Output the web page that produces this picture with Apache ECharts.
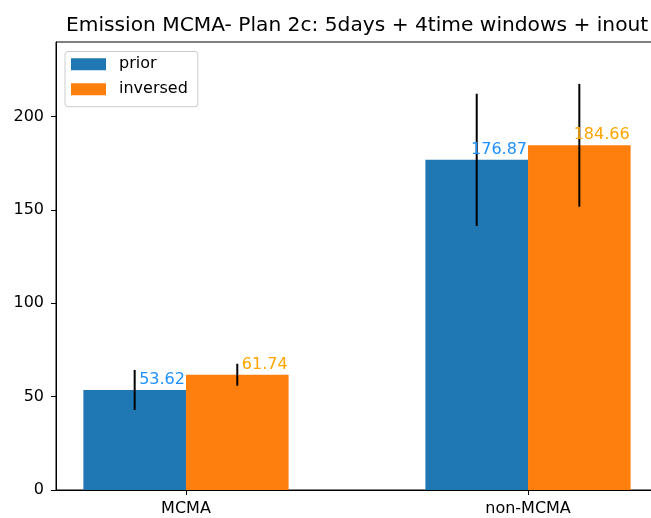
<!DOCTYPE html>
<html><head><meta charset="utf-8">
<script src="https://cdn.jsdelivr.net/npm/echarts@6/dist/echarts.min.js"></script>
<style>html,body{margin:0;padding:0;background:#fff;overflow:hidden}#c{width:680px;height:518px}</style>
</head><body><div id="c"></div>
<script>
const categories = ['MCMA', 'non-MCMA'];
const seriesNames = ['prior', 'inversed'];
const priorValues = [53.62, 176.87];
const inversedValues = [61.74, 184.66];
const priorErrors = [10.7, 35.4];
const inversedErrors = [5.9, 32.9];
const yTicks = [0, 50, 100, 150, 200];
const xTicks = [0, 1];
const titleText = 'Emission MCMA- Plan 2c: 5days + 4time windows + inout';

const barColors = ['#1f77b4', '#ff7f0e'];
const labelColors = ['#1e90ff', '#ffa500'];
const offsets = [-0.15, 0.15];
const barW = 0.3;
const FONT = 'DejaVu Sans';

const groups = [
  { name: seriesNames[0], values: priorValues, errors: priorErrors },
  { name: seriesNames[1], values: inversedValues, errors: inversedErrors }
];

const series = [];
groups.forEach((g, gi) => {
  series.push({
    name: g.name,
    type: 'custom',
    z: 2,
    itemStyle: { color: barColors[gi] },
    data: g.values.map((v, i) => [i + offsets[gi], v]),
    renderItem: (params, api) => {
      const x = api.value(0), v = api.value(1);
      const p0 = api.coord([x - barW / 2, 0]);
      const p1 = api.coord([x + barW / 2, v]);
      return { type: 'rect', shape: { x: p0[0], y: p1[1], width: p1[0] - p0[0], height: p0[1] - p1[1] },
        style: { fill: barColors[gi] } };
    }
  });
});
groups.forEach((g, gi) => {
  series.push({
    name: g.name + '-err',
    type: 'custom',
    z: 3,
    silent: true,
    data: g.values.map((v, i) => [i + offsets[gi], v - g.errors[i], v + g.errors[i]]),
    renderItem: (params, api) => {
      const x = api.value(0);
      const a = api.coord([x, api.value(1)]);
      const b = api.coord([x, api.value(2)]);
      return { type: 'line', shape: { x1: a[0], y1: a[1], x2: b[0], y2: b[1] },
        style: { stroke: '#000', lineWidth: 2 } };
    }
  });
});
groups.forEach((g, gi) => {
  series.push({
    name: g.name + '-lbl',
    type: 'custom',
    z: 5,
    silent: true,
    data: g.values.map((v, i) => [i + offsets[gi], v]),
    renderItem: (params, api) => {
      const x = api.value(0), v = api.value(1);
      const p = api.coord([x + barW / 2, v]);
      return { type: 'text', x: p[0] - 1, y: p[1] - 2,
        style: { text: v.toFixed(2), fill: labelColors[gi], font: '16px "' + FONT + '"',
          align: 'right', verticalAlign: 'bottom' } };
    }
  });
});

const chart = echarts.init(document.getElementById('c'), null, { renderer: 'canvas' });
chart.setOption({
  animation: false,
  backgroundColor: '#fff',
  textStyle: { fontFamily: FONT },
  title: { text: titleText, left: 66, top: 16, padding: 0,
    textStyle: { fontFamily: FONT, fontSize: 20.2, fontWeight: 'normal', color: '#000' } },
  legend: {
    data: seriesNames, orient: 'vertical', left: 65, top: 51.5,
    itemWidth: 35, itemHeight: 12, itemGap: 9, icon: 'rect',
    padding: [4.7, 10, 9.5, 6],
    backgroundColor: 'rgba(255,255,255,0.8)', borderColor: '#cccccc', borderWidth: 1, borderRadius: 3,
    textStyle: { fontFamily: FONT, fontSize: 16, color: '#000', padding: [0, 0, 0, 8] }
  },
  grid: { left: 56, top: 42, width: 602, height: 448, show: true, borderColor: '#000', borderWidth: 1,
    backgroundColor: 'transparent', containLabel: false },
  xAxis: {
    type: 'value', min: -0.38, max: 1.38,
    splitLine: { show: false },
    axisLine: { show: true, onZero: false, lineStyle: { color: '#000', width: 1 } },
    axisTick: { show: true, customValues: xTicks, length: 5, lineStyle: { color: '#000', width: 1 } },
    axisLabel: { customValues: xTicks, formatter: v => categories[Math.round(v)], margin: 11,
      fontFamily: FONT, fontSize: 16, color: '#000' }
  },
  yAxis: {
    type: 'value', min: 0, max: 240,
    splitLine: { show: false },
    axisLine: { show: true, onZero: false, lineStyle: { color: '#000', width: 1 } },
    axisTick: { show: true, customValues: yTicks, length: 5, lineStyle: { color: '#000', width: 1 } },
    axisLabel: { customValues: yTicks, margin: 12, fontFamily: FONT, fontSize: 16, color: '#000' }
  },
  series: series
});
</script></body></html>
